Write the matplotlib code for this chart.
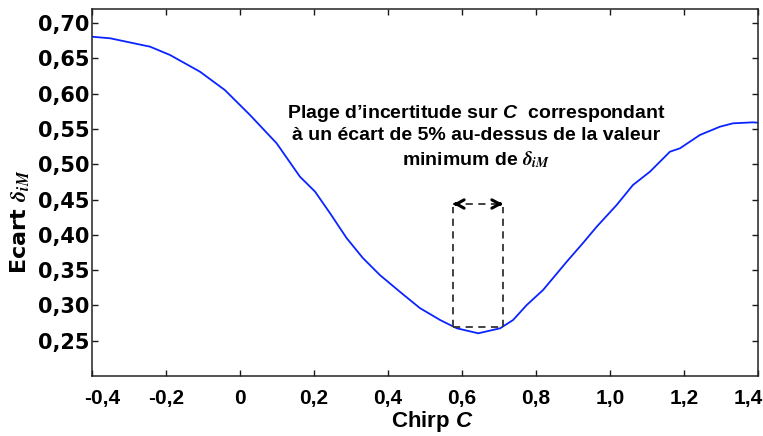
import matplotlib
matplotlib.use("Agg")
import matplotlib.pyplot as plt
import matplotlib.transforms as mtransforms

# ---- data ----
chirp = [-0.400, -0.351, -0.243, -0.189, -0.108, -0.041, 0.027, 0.099, 0.162,
         0.203, 0.243, 0.288, 0.332, 0.378, 0.432, 0.486, 0.541, 0.586, 0.644,
         0.703, 0.738, 0.775, 0.819, 0.883, 0.927, 0.964, 1.018, 1.062, 1.108,
         1.162, 1.189, 1.243, 1.297, 1.332, 1.386, 1.400]
ecart = [0.6807, 0.6785, 0.6666, 0.6548, 0.6311, 0.6052, 0.5698, 0.5297, 0.4824,
         0.4611, 0.4309, 0.3955, 0.3672, 0.3431, 0.3194, 0.2963, 0.2793, 0.2676,
         0.2605, 0.2676, 0.2793, 0.3006, 0.3218, 0.3619, 0.3884, 0.4115, 0.4423,
         0.4706, 0.4895, 0.5178, 0.5226, 0.5415, 0.5532, 0.5580, 0.5594, 0.5589]

xticks = [-0.4, -0.2, 0.0, 0.2, 0.4, 0.6, 0.8, 1.0, 1.2, 1.4]
xticklabels = ["-0,4", "-0,2", "0", "0,2", "0,4", "0,6", "0,8", "1,0", "1,2", "1,4"]
yticks = [0.25, 0.30, 0.35, 0.40, 0.45, 0.50, 0.55, 0.60, 0.65, 0.70]
yticklabels = ["0,25", "0,30", "0,35", "0,40", "0,45", "0,50", "0,55", "0,60", "0,65", "0,70"]

# uncertainty range on C (5% above minimum)
c_low, c_high = 0.5765, 0.710
range_bottom, range_top = 0.2699, 0.4437

# ---- style ----
plt.rcParams.update({
    "font.family": ["Liberation Sans", "DejaVu Sans"],
    "font.weight": "bold",
    "mathtext.fontset": "custom",
    "mathtext.rm": "Liberation Sans:bold",
    "mathtext.it": "Liberation Sans:italic:bold",
    "mathtext.bf": "Liberation Sans:bold",
})

W, H = 763, 436
fig = plt.figure(figsize=(W / 100, H / 100), dpi=100)
ax = fig.add_axes([92 / W, 1 - 376 / H, (758 - 92) / W, (376 - 9) / H])

ax.plot(chirp, ecart, color="#0a24ff", lw=1.3)

ax.set_xlim(-0.4, 1.4)
ax.set_ylim(0.20, 0.72)
ax.set_xticks(xticks)
ax.set_xticklabels(xticklabels)
ax.set_yticks(yticks)
ax.set_yticklabels(yticklabels)
ax.tick_params(direction="in", length=4, width=1, top=True, right=True,
               labelsize=15, colors="#1a1a1a")
ax.tick_params(axis="x", pad=9)
ax.tick_params(axis="y", pad=2)
for lab in ax.get_xticklabels():
    lab.set_fontweight("bold")
    lab.set_color("black")
for lab in ax.get_yticklabels():
    lab.set_fontfamily("DejaVu Sans")
    lab.set_fontweight("bold")
    lab.set_color("black")
xl = ax.get_xticklabels()
xl[0].set_transform(xl[0].get_transform()
                    + mtransforms.ScaledTranslation(10 / 100, 0, fig.dpi_scale_trans))
xl[-1].set_transform(xl[-1].get_transform()
                     + mtransforms.ScaledTranslation(-10 / 100, 0, fig.dpi_scale_trans))
for s in ax.spines.values():
    s.set_linewidth(1.1)
    s.set_color("#222222")

# dashed range box
dcol = "#333333"
dash = dict(color=dcol, lw=1.3, ls=(0, (4, 3)))
ax.plot([c_low, c_low], [range_bottom, range_top - 0.004], **dash)
ax.plot([c_high, c_high], [range_bottom, range_top - 0.004], **dash)
ax.plot([c_low, c_high], [range_bottom, range_bottom], **dash)
ax.plot([c_low, c_high], [range_top, range_top], **dash)
head = dict(arrowstyle="->,head_length=0.55,head_width=0.3", lw=2.2,
            color="black", shrinkA=0, shrinkB=0)
ax.annotate("", xy=(c_low, range_top), xytext=(c_low + 0.008, range_top), arrowprops=head)
ax.annotate("", xy=(c_high, range_top), xytext=(c_high - 0.008, range_top), arrowprops=head)

# annotation text
tx = 0.638
ax.text(tx, 0.5655, "Plage d’incertitude sur $C$  correspondant", ha="center",
        va="baseline", fontsize=14, fontweight="bold")
ax.text(tx, 0.5344, "à un écart de 5% au-dessus de la valeur", ha="center",
        va="baseline", fontsize=14, fontweight="bold")
ax.text(tx, 0.499, r"minimum de $\delta_{iM}$", ha="center",
        va="baseline", fontsize=14, fontweight="bold", math_fontfamily="stix")

# axis labels
fig.text(432 / W, 1 - 427 / H, "Chirp $C$", ha="center", va="baseline",
         fontsize=16, fontweight="bold")
fig.text(20 / W, 1 - 222 / H, r"Ecart $\delta_{iM}$", ha="center", va="center",
         rotation=90, fontsize=16, fontweight="bold", fontfamily="DejaVu Sans",
         math_fontfamily="stix")

fig.savefig("out.png", dpi=100)
